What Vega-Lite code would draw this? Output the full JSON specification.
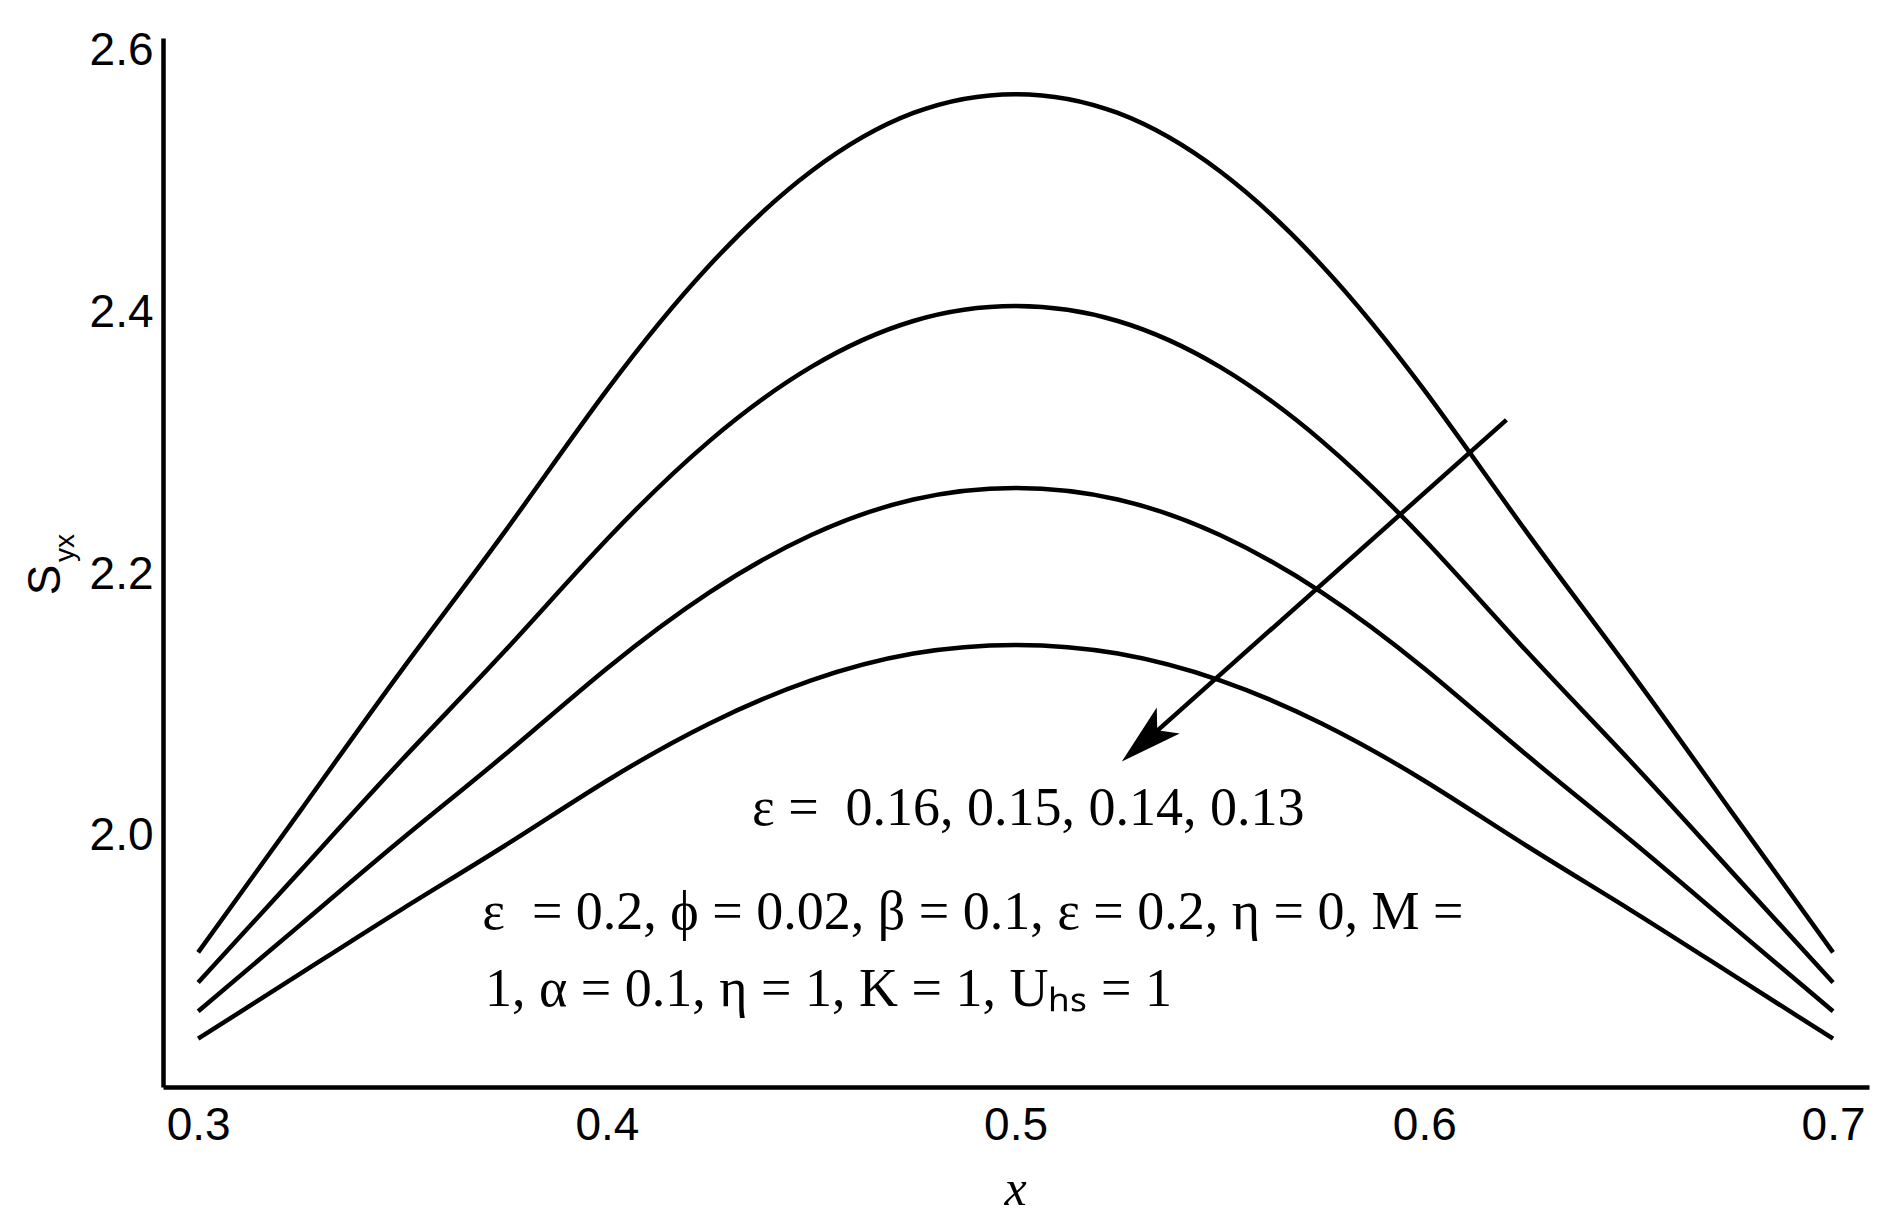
{
  "$schema": "https://vega.github.io/schema/vega-lite/v6.json",
  "width": 1706,
  "height": 1049,
  "autosize": {"type": "none"},
  "padding": {"left": 163, "top": 38, "right": 25, "bottom": 141},
  "background": "white",
  "config": {
    "view": {"stroke": null},
    "axis": {
      "domainColor": "black",
      "domainWidth": 4.5,
      "ticks": false,
      "tickSize": 0,
      "grid": false,
      "labelFont": "Liberation Sans",
      "labelFontSize": 46,
      "labelColor": "black",
      "labelFlush": false,
      "labelOverlap": false,
      "title": null
    }
  },
  "datasets": {
    "curves": [
      {"eps": 0.16, "x": 0.3, "y": 1.911}, {"eps": 0.16, "x": 0.325, "y": 2.0192}, {"eps": 0.16, "x": 0.35, "y": 2.1275}, {"eps": 0.16, "x": 0.375, "y": 2.2324}, {"eps": 0.16, "x": 0.4, "y": 2.3407}, {"eps": 0.16, "x": 0.425, "y": 2.4358}, {"eps": 0.16, "x": 0.45, "y": 2.508}, {"eps": 0.16, "x": 0.475, "y": 2.5526}, {"eps": 0.16, "x": 0.5, "y": 2.567}, {"eps": 0.16, "x": 0.525, "y": 2.5526}, {"eps": 0.16, "x": 0.55, "y": 2.508}, {"eps": 0.16, "x": 0.575, "y": 2.4358}, {"eps": 0.16, "x": 0.6, "y": 2.3407}, {"eps": 0.16, "x": 0.625, "y": 2.2324}, {"eps": 0.16, "x": 0.65, "y": 2.1275}, {"eps": 0.16, "x": 0.675, "y": 2.0192}, {"eps": 0.16, "x": 0.7, "y": 1.911},
      {"eps": 0.15, "x": 0.3, "y": 1.888}, {"eps": 0.15, "x": 0.325, "y": 1.9733}, {"eps": 0.15, "x": 0.35, "y": 2.0586}, {"eps": 0.15, "x": 0.375, "y": 2.1413}, {"eps": 0.15, "x": 0.4, "y": 2.2266}, {"eps": 0.15, "x": 0.425, "y": 2.3016}, {"eps": 0.15, "x": 0.45, "y": 2.3585}, {"eps": 0.15, "x": 0.475, "y": 2.3936}, {"eps": 0.15, "x": 0.5, "y": 2.405}, {"eps": 0.15, "x": 0.525, "y": 2.3936}, {"eps": 0.15, "x": 0.55, "y": 2.3585}, {"eps": 0.15, "x": 0.575, "y": 2.3016}, {"eps": 0.15, "x": 0.6, "y": 2.2266}, {"eps": 0.15, "x": 0.625, "y": 2.1413}, {"eps": 0.15, "x": 0.65, "y": 2.0586}, {"eps": 0.15, "x": 0.675, "y": 1.9733}, {"eps": 0.15, "x": 0.7, "y": 1.888},
      {"eps": 0.14, "x": 0.3, "y": 1.866}, {"eps": 0.14, "x": 0.325, "y": 1.932}, {"eps": 0.14, "x": 0.35, "y": 1.998}, {"eps": 0.14, "x": 0.375, "y": 2.062}, {"eps": 0.14, "x": 0.4, "y": 2.128}, {"eps": 0.14, "x": 0.425, "y": 2.186}, {"eps": 0.14, "x": 0.45, "y": 2.23}, {"eps": 0.14, "x": 0.475, "y": 2.2572}, {"eps": 0.14, "x": 0.5, "y": 2.266}, {"eps": 0.14, "x": 0.525, "y": 2.2572}, {"eps": 0.14, "x": 0.55, "y": 2.23}, {"eps": 0.14, "x": 0.575, "y": 2.186}, {"eps": 0.14, "x": 0.6, "y": 2.128}, {"eps": 0.14, "x": 0.625, "y": 2.062}, {"eps": 0.14, "x": 0.65, "y": 1.998}, {"eps": 0.14, "x": 0.675, "y": 1.932}, {"eps": 0.14, "x": 0.7, "y": 1.866},
      {"eps": 0.13, "x": 0.3, "y": 1.845}, {"eps": 0.13, "x": 0.325, "y": 1.8947}, {"eps": 0.13, "x": 0.35, "y": 1.9443}, {"eps": 0.13, "x": 0.375, "y": 1.9925}, {"eps": 0.13, "x": 0.4, "y": 2.0422}, {"eps": 0.13, "x": 0.425, "y": 2.0858}, {"eps": 0.13, "x": 0.45, "y": 2.1189}, {"eps": 0.13, "x": 0.475, "y": 2.1394}, {"eps": 0.13, "x": 0.5, "y": 2.146}, {"eps": 0.13, "x": 0.525, "y": 2.1394}, {"eps": 0.13, "x": 0.55, "y": 2.1189}, {"eps": 0.13, "x": 0.575, "y": 2.0858}, {"eps": 0.13, "x": 0.6, "y": 2.0422}, {"eps": 0.13, "x": 0.625, "y": 1.9925}, {"eps": 0.13, "x": 0.65, "y": 1.9443}, {"eps": 0.13, "x": 0.675, "y": 1.8947}, {"eps": 0.13, "x": 0.7, "y": 1.845}
    ],
    "arrow": [
      {"x": 0.6201, "y": 2.318, "x2": 0.5329, "y2": 2.0755, "tipx": 0.526, "tipy": 2.0568}
    ],
    "notes": [
      {"label": "ε = \u00a00.16, 0.15, 0.14, 0.13", "x": 0.4355, "y": 2.0084},
      {"label": "ε \u00a0= 0.2, ϕ = 0.02, β = 0.1, ε = 0.2, η = 0, M =", "x": 0.3695, "y": 1.9289},
      {"label": "1, α = 0.1, η = 1, K = 1, Uₕₛ = 1", "x": 0.3702, "y": 1.87}
    ],
    "ytitle": [{"label": "S", "x": 0.26281, "y": 2.1957}],
    "ysub": [{"label": "yx", "x": 0.26771, "y": 2.2201}],
    "xtitle": [{"label": "x", "x": 0.5, "y": 1.7179}]
  },
  "layer": [
    {
      "data": {"name": "curves"},
      "mark": {"type": "line", "color": "black", "strokeWidth": 4.5, "interpolate": "natural"},
      "encoding": {
        "x": {"field": "x", "type": "quantitative", "scale": {"domain": [0.2914, 0.7088], "nice": false, "zero": false},
              "axis": {"values": [0.3, 0.4, 0.5, 0.6, 0.7], "format": ".1f", "labelPadding": 16}},
        "y": {"field": "y", "type": "quantitative", "scale": {"domain": [1.8081, 2.6099], "nice": false, "zero": false},
              "axis": {"values": [2.0, 2.2, 2.4, 2.6], "format": ".1f", "labelPadding": 10}},
        "detail": {"field": "eps", "type": "nominal"}
      }
    },
    {
      "data": {"name": "arrow"},
      "mark": {"type": "rule", "color": "black", "strokeWidth": 4.5},
      "encoding": {
        "x": {"field": "x", "type": "quantitative", "scale": {"domain": [0.2914, 0.7088], "nice": false, "zero": false}},
        "y": {"field": "y", "type": "quantitative", "scale": {"domain": [1.8081, 2.6099], "nice": false, "zero": false}},
        "x2": {"field": "x2"},
        "y2": {"field": "y2"}
      }
    },
    {
      "data": {"name": "arrow"},
      "mark": {"type": "point", "filled": true, "color": "black", "opacity": 1, "shape": "M0,0L0.53,1.9L0,1.45L-0.53,1.9Z", "size": 4264, "angle": 228.4},
      "encoding": {
        "x": {"field": "tipx", "type": "quantitative", "scale": {"domain": [0.2914, 0.7088], "nice": false, "zero": false}},
        "y": {"field": "tipy", "type": "quantitative", "scale": {"domain": [1.8081, 2.6099], "nice": false, "zero": false}}
      }
    },
    {
      "data": {"name": "notes"},
      "mark": {"type": "text", "font": "Liberation Serif", "fontSize": 54, "color": "black", "align": "left", "baseline": "alphabetic"},
      "encoding": {
        "x": {"field": "x", "type": "quantitative", "scale": {"domain": [0.2914, 0.7088], "nice": false, "zero": false}},
        "y": {"field": "y", "type": "quantitative", "scale": {"domain": [1.8081, 2.6099], "nice": false, "zero": false}},
        "text": {"field": "label"}
      }
    },
    {
      "data": {"name": "ytitle"},
      "mark": {"type": "text", "font": "Liberation Sans", "fontSize": 46, "color": "black", "align": "center", "baseline": "middle", "angle": 270},
      "encoding": {
        "x": {"field": "x", "type": "quantitative", "scale": {"domain": [0.2914, 0.7088], "nice": false, "zero": false}},
        "y": {"field": "y", "type": "quantitative", "scale": {"domain": [1.8081, 2.6099], "nice": false, "zero": false}},
        "text": {"field": "label"}
      }
    },
    {
      "data": {"name": "ysub"},
      "mark": {"type": "text", "font": "Liberation Sans", "fontSize": 28, "color": "black", "align": "center", "baseline": "middle", "angle": 270},
      "encoding": {
        "x": {"field": "x", "type": "quantitative", "scale": {"domain": [0.2914, 0.7088], "nice": false, "zero": false}},
        "y": {"field": "y", "type": "quantitative", "scale": {"domain": [1.8081, 2.6099], "nice": false, "zero": false}},
        "text": {"field": "label"}
      }
    },
    {
      "data": {"name": "xtitle"},
      "mark": {"type": "text", "font": "Liberation Serif", "fontSize": 50, "fontStyle": "italic", "color": "black", "align": "center", "baseline": "alphabetic"},
      "encoding": {
        "x": {"field": "x", "type": "quantitative", "scale": {"domain": [0.2914, 0.7088], "nice": false, "zero": false}},
        "y": {"field": "y", "type": "quantitative", "scale": {"domain": [1.8081, 2.6099], "nice": false, "zero": false}},
        "text": {"field": "label"}
      }
    }
  ]
}
